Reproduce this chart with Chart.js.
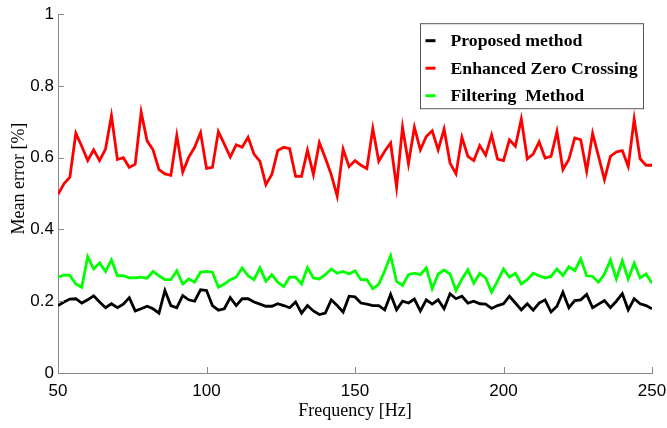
<!DOCTYPE html>
<html>
<head>
<meta charset="utf-8">
<title>Mean error vs frequency</title>
<script src="https://cdn.jsdelivr.net/npm/chart.js@4"></script>
<style>
  html, body { margin: 0; padding: 0; background: #fff; }
  #wrap { width: 667px; height: 428px; position: relative; }
</style>
</head>
<body>
<div id="wrap"><canvas id="errorChartCanvas"></canvas></div>
<script>
// frequencies 50..250 Hz in 2 Hz steps
var freqStart = 50, freqEnd = 250, freqStep = 2;
var frequencies = [];
for (var f = freqStart; f <= freqEnd; f += freqStep) frequencies.push(f);

var seriesLabels = ['Proposed method', 'Enhanced Zero Crossing', 'Filtering  Method'];
var seriesColors = ['#000000', '#ff0000', '#00ff00'];

var proposedErr = [
  0.188, 0.198, 0.206, 0.207, 0.195, 0.204, 0.215, 0.198, 0.182, 0.193,
  0.182, 0.192, 0.210, 0.173, 0.179, 0.186, 0.179, 0.167, 0.230, 0.188,
  0.182, 0.216, 0.204, 0.200, 0.232, 0.230, 0.188, 0.175, 0.179, 0.210,
  0.188, 0.207, 0.207, 0.198, 0.192, 0.186, 0.186, 0.193, 0.188, 0.182,
  0.198, 0.167, 0.188, 0.173, 0.163, 0.167, 0.204, 0.188, 0.170, 0.214,
  0.212, 0.195, 0.192, 0.188, 0.188, 0.176, 0.219, 0.176, 0.200, 0.195,
  0.206, 0.173, 0.204, 0.192, 0.204, 0.179, 0.221, 0.207, 0.214, 0.195,
  0.200, 0.193, 0.192, 0.180, 0.188, 0.193, 0.214, 0.195, 0.176, 0.193,
  0.175, 0.195, 0.204, 0.170, 0.186, 0.225, 0.182, 0.202, 0.204, 0.219,
  0.182, 0.192, 0.202, 0.182, 0.200, 0.221, 0.176, 0.207, 0.193, 0.188,
  0.179
];

var zeroCrossingErr = [
  0.498, 0.527, 0.546, 0.668, 0.632, 0.592, 0.622, 0.592, 0.624, 0.717,
  0.595, 0.600, 0.573, 0.582, 0.727, 0.647, 0.622, 0.567, 0.555, 0.551,
  0.662, 0.560, 0.601, 0.629, 0.670, 0.570, 0.573, 0.673, 0.638, 0.602,
  0.636, 0.629, 0.657, 0.610, 0.590, 0.525, 0.553, 0.620, 0.629, 0.625,
  0.548, 0.548, 0.621, 0.553, 0.642, 0.599, 0.553, 0.493, 0.624, 0.575,
  0.592, 0.579, 0.570, 0.681, 0.590, 0.618, 0.641, 0.518, 0.685, 0.583,
  0.685, 0.622, 0.659, 0.675, 0.622, 0.680, 0.585, 0.555, 0.657, 0.604,
  0.592, 0.634, 0.607, 0.663, 0.596, 0.592, 0.650, 0.632, 0.708, 0.597,
  0.610, 0.644, 0.599, 0.604, 0.673, 0.567, 0.595, 0.655, 0.650, 0.562,
  0.668, 0.604, 0.539, 0.604, 0.616, 0.620, 0.576, 0.708, 0.597, 0.579,
  0.579
];

var filteringErr = [
  0.267, 0.273, 0.272, 0.248, 0.239, 0.324, 0.290, 0.307, 0.283, 0.315,
  0.271, 0.271, 0.265, 0.265, 0.267, 0.264, 0.283, 0.271, 0.260, 0.260,
  0.285, 0.248, 0.262, 0.253, 0.281, 0.283, 0.281, 0.239, 0.248, 0.260,
  0.267, 0.293, 0.271, 0.260, 0.293, 0.256, 0.274, 0.253, 0.241, 0.267,
  0.267, 0.248, 0.294, 0.265, 0.262, 0.274, 0.290, 0.278, 0.283, 0.276,
  0.285, 0.260, 0.260, 0.235, 0.247, 0.285, 0.327, 0.255, 0.244, 0.274,
  0.278, 0.274, 0.293, 0.235, 0.276, 0.287, 0.276, 0.230, 0.262, 0.288,
  0.250, 0.278, 0.265, 0.225, 0.256, 0.290, 0.267, 0.278, 0.248, 0.260,
  0.278, 0.271, 0.265, 0.269, 0.290, 0.271, 0.296, 0.285, 0.318, 0.271,
  0.269, 0.253, 0.276, 0.315, 0.262, 0.313, 0.262, 0.306, 0.265, 0.276,
  0.250
];

var xTicks = [50, 100, 150, 200, 250];
var yTicks = [0, 0.2, 0.4, 0.6, 0.8, 1];
var xTitle = 'Frequency [Hz]';
var yTitle = 'Mean error [%]';

const axisColor = '#8a8a8a';

function toPoints(values) {
    return values.map(function(v, i) { return { x: frequencies[i], y: v }; });
}

// inward tick marks, axis titles and the boxed legend
const axisExtras = {
    id: 'axisExtras',
    afterDraw(chart) {
        const ctx = chart.ctx;
        const area = chart.chartArea;
        const xs = chart.scales.x;
        const ys = chart.scales.y;

        ctx.save();
        ctx.strokeStyle = axisColor;
        ctx.lineWidth = 1;
        xTicks.forEach(function(t) {
            var px = Math.round(xs.getPixelForValue(t)) + 0.5;
            ctx.beginPath();
            ctx.moveTo(px, area.bottom);
            ctx.lineTo(px, area.bottom - 6);
            ctx.stroke();
        });
        yTicks.forEach(function(t) {
            var py = Math.round(ys.getPixelForValue(t)) + 0.5;
            ctx.beginPath();
            ctx.moveTo(area.left, py);
            ctx.lineTo(area.left + 6, py);
            ctx.stroke();
        });

        // axis titles
        ctx.fillStyle = '#000';
        ctx.font = '18px "Liberation Serif", "Times New Roman", serif';
        ctx.textAlign = 'center';
        ctx.textBaseline = 'middle';
        ctx.fillText(xTitle, (area.left + area.right) / 2, area.bottom + 38);
        ctx.save();
        ctx.translate(19, (area.top + area.bottom) / 2 - 15);
        ctx.rotate(-Math.PI / 2);
        ctx.fillText(yTitle, 0, 0);
        ctx.restore();

        // legend box
        var boxW = 223, boxH = 85;
        var bx = area.right - 9 - boxW + 0.5;
        var by = area.top + 9 + 0.5;
        ctx.fillStyle = '#fff';
        ctx.fillRect(bx, by, boxW, boxH);
        ctx.strokeStyle = '#555';
        ctx.lineWidth = 1;
        ctx.strokeRect(bx, by, boxW, boxH);

        ctx.font = 'bold 17.7px "Liberation Serif", "Times New Roman", serif';
        ctx.textAlign = 'left';
        chart.data.datasets.forEach(function(ds, i) {
            var rowY = by + 17 + i * 27.5;
            ctx.strokeStyle = ds.borderColor;
            ctx.lineWidth = 3;
            ctx.beginPath();
            ctx.moveTo(bx + 5, rowY);
            ctx.lineTo(bx + 15, rowY);
            ctx.stroke();
            ctx.fillStyle = '#000';
            ctx.fillText(ds.label, bx + 30, rowY + 1);
        });
        ctx.restore();
    }
};

const chartData = {
    datasets: [proposedErr, zeroCrossingErr, filteringErr].map(function(values, i) {
        return {
            label: seriesLabels[i],
            data: toPoints(values),
            borderColor: seriesColors[i],
            backgroundColor: seriesColors[i],
            borderWidth: 2.8,
            pointRadius: 0,
            tension: 0,
            fill: false
        };
    })
};

const tickFont = { family: '"Liberation Sans", Arial, sans-serif', size: 17 };

const config = {
    type: 'line',
    data: chartData,
    options: {
        responsive: true,
        maintainAspectRatio: false,
        animation: false,
        layout: { padding: { top: 12, right: 15, left: 0, bottom: 0 } },
        plugins: {
            legend: { display: false },
            tooltip: { enabled: false }
        },
        scales: {
            x: {
                type: 'linear',
                min: freqStart,
                max: freqEnd,
                grid: { display: false, drawTicks: false },
                border: { display: true, color: axisColor, width: 1 },
                ticks: {
                    stepSize: 50,
                    color: '#000',
                    font: tickFont,
                    padding: 8,
                    maxRotation: 0
                },
                afterFit: function(scale) {
                    scale.height = 55;
                    // the end labels may hang past the plot edges
                    scale.paddingLeft = 0;
                    scale.paddingRight = 0;
                }
            },
            y: {
                min: 0,
                max: 1,
                grid: { display: false, drawTicks: false },
                border: { display: true, color: axisColor, width: 1 },
                ticks: {
                    stepSize: 0.2,
                    color: '#000',
                    font: tickFont,
                    padding: 4,
                    // plain labels: 0, 0.2, ... 1
                    callback: function(value) { return String(Math.round(value * 10) / 10); }
                },
                afterFit: function(scale) { scale.width = 58; }
            }
        }
    },
    plugins: [axisExtras]
};

const errorChart = new Chart(document.getElementById('errorChartCanvas'), config);
</script>
</body>
</html>
